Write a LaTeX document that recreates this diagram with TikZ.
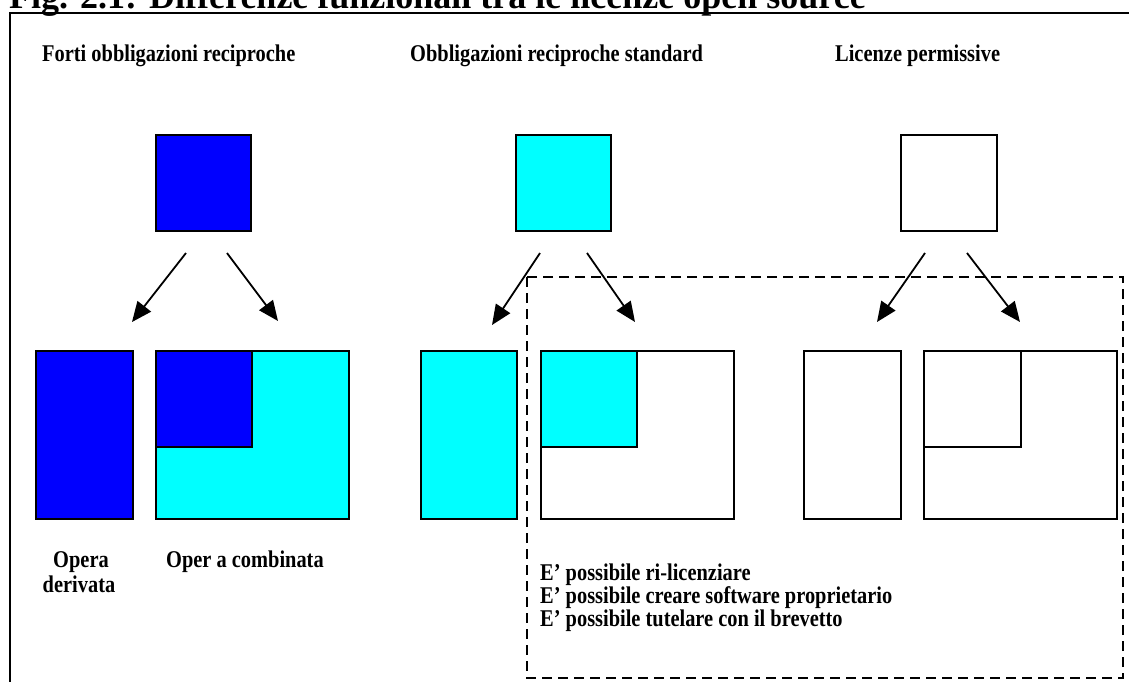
\documentclass[tikz,border=0pt]{standalone}
\usepackage{fontspec}
\usepackage{graphicx}
\setmainfont{Liberation Serif}
\usetikzlibrary{arrows.meta}
\definecolor{strongblue}{RGB}{0,0,255}
\definecolor{stdcyan}{RGB}{0,255,255}
% narrow bold lettering used for all labels
\newcommand{\narrowtext}[1]{\scalebox{0.85}[1]{#1}}
\begin{document}
\begin{tikzpicture}[x=1pt,y=-1pt,
  lbl/.style={font=\bfseries\fontsize{24}{27}\selectfont, inner sep=0pt, anchor=base west},
  block/.style={draw=black, line width=1.6pt, inner sep=0pt, anchor=north west},
  flow/.style={line width=1.8pt, -{Triangle[length=20pt,width=17pt]}}
]
\useasboundingbox (0,0) rectangle (1129,681);
\clip (0,0) rectangle (1129,681);

% outer frame and title
\draw[line width=2.2pt] (10,700) |- (1140,13);
\node[anchor=base west, inner sep=0pt, font=\bfseries\fontsize{36}{40}\selectfont] (title) at (9,8)
  {Fig. 2.1: Differenze funzionali tra le licenze open source};

% column headings
\node[lbl] (hA) at (42,61) {\narrowtext{Forti obbligazioni reciproche}};
\node[lbl] (hB) at (410,61) {\narrowtext{Obbligazioni reciproche standard}};
\node[lbl] (hC) at (835,61) {\narrowtext{Licenze permissive}};

% licensed components
\node[block, fill=strongblue, minimum width=95pt, minimum height=96pt] (srcA) at (155,134) {};
\node[block, fill=stdcyan,    minimum width=95pt, minimum height=96pt] (srcB) at (515,134) {};
\node[block, fill=white,      minimum width=96pt, minimum height=96pt] (srcC) at (900,134) {};

% derived works
\node[block, fill=strongblue, minimum width=97pt, minimum height=168pt] (derA) at (35,350) {};
\node[block, fill=stdcyan,    minimum width=96pt, minimum height=168pt] (derB) at (420,350) {};
\node[block, fill=white,      minimum width=97pt, minimum height=168pt] (derC) at (803,350) {};

% combined works
\node[block, fill=stdcyan, minimum width=193pt, minimum height=168pt] (comA) at (155,350) {};
\node[block, fill=strongblue, minimum width=96pt, minimum height=96pt] (inA) at (155,350) {};
\node[block, fill=white, minimum width=193pt, minimum height=168pt] (comB) at (540,350) {};
\node[block, fill=stdcyan, minimum width=96pt, minimum height=96pt] (inB) at (540,350) {};
\node[block, fill=white, minimum width=193pt, minimum height=168pt] (comC) at (923,350) {};
\node[block, fill=white, minimum width=97pt, minimum height=96pt] (inC) at (923,350) {};

% arrow end points
\coordinate (aL0) at (186,253); \coordinate (aL1) at (132,322);
\coordinate (aR0) at (227,253); \coordinate (aR1) at (278,321);
\coordinate (bL0) at (540,253); \coordinate (bL1) at (492,325);
\coordinate (bR0) at (587,253); \coordinate (bR1) at (635,322);
\coordinate (cL0) at (925,253); \coordinate (cL1) at (877,322);
\coordinate (cR0) at (967,253); \coordinate (cR1) at (1020,322);
\draw[flow] (aL0) -- (aL1);
\draw[flow] (aR0) -- (aR1);
\draw[flow] (bL0) -- (bL1);
\draw[flow] (bR0) -- (bR1);
\draw[flow] (cL0) -- (cL1);
\draw[flow] (cR0) -- (cR1);

% region of the permitted uses
\coordinate (dTL) at (527,277);
\coordinate (dBR) at (1123,678);
\draw[line width=1.8pt, dash pattern=on 10pt off 6pt] (dTL) rectangle (dBR);

% captions
\node[lbl, anchor=base] (capA1) at (81,567) {\narrowtext{Opera}};
\node[lbl, anchor=base] (capA2) at (79,592) {\narrowtext{derivata}};
\node[lbl] (capB) at (166,567) {\narrowtext{Oper a combinata}};
\node[lbl] (use1) at (540,580) {\narrowtext{E’ possibile ri-licenziare}};
\node[lbl] (use2) at (540,603) {\narrowtext{E’ possibile creare software proprietario}};
\node[lbl] (use3) at (540,626) {\narrowtext{E’ possibile tutelare con il brevetto}};
\end{tikzpicture}
\end{document}
